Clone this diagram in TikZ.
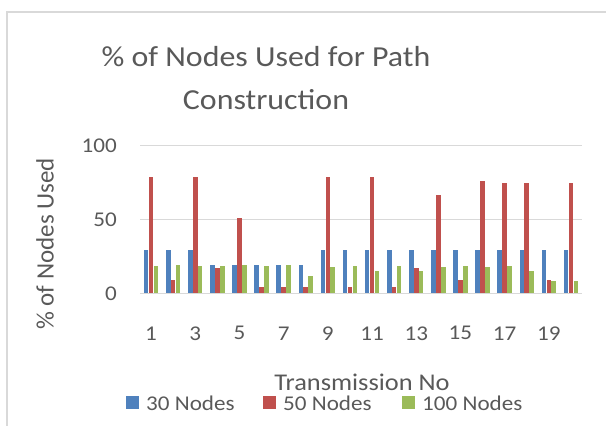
\documentclass[tikz,border=0pt]{standalone}
\usepackage{fontspec}
\setmainfont{Carlito}
\usepackage{tikz}
\usetikzlibrary{positioning}
\definecolor{serA}{HTML}{4F81BD}
\definecolor{serB}{HTML}{C0504D}
\definecolor{serC}{HTML}{9BBB59}
\definecolor{txtgray}{HTML}{595959}
\definecolor{linegray}{HTML}{D9D9D9}

\begin{document}
\begin{tikzpicture}[x=1pt, y=1pt]
\tikzset{
lbl/.style      = {text=txtgray, inner sep=0pt, xscale=1.1},
grid/.style     = {draw=linegray, line width=1.2pt},
legkey/.style   = {shape=rectangle, inner sep=0pt, minimum size=13pt},
}
    \useasboundingbox (0,0) rectangle (606,426);

    % Chart frame
    \draw [linegray, line width=1.5pt] (7,0) -- (7,414) -- (606,414);

    % Title
    \node [lbl, align=center, font=\fontsize{29}{43}\selectfont] (title) at (266,348)
        {\% of Nodes Used for Path\\Construction};

    % Plot area
    \begin{scope}[shift={(140pt,132.7pt)}, x=22.1pt, y=1.476pt]
    \foreach \v in {0,50,100} {
        \draw [grid] (0,\v) -- (20,\v);
        \node [lbl, anchor=east, font=\fontsize{21}{21}\selectfont] (ytick\v) at (-1.04,\v) {\v};
    }

    % Bars
    \foreach \i/\a/\b/\c in {1/29/79/18.5, 2/29/9/19.5, 3/29/79/18.5, 4/19.5/17/18.5,
        5/19.5/51/19.5, 6/19.5/4/18.5, 7/19.5/4/19.5, 8/19.5/4/11.5, 9/29/79/17.5,
        10/29/4/18.5, 11/29/79/15, 12/29/4/18.5, 13/29/17/15, 14/29/66.5/17.5,
        15/29/9/18.5, 16/29/76/17.5, 17/29/74.5/18.5, 18/29/74.5/15, 19/29/9/8,
        20/29/74.5/8} {
        \fill [serA] (\i-0.826,0) rectangle (\i-0.618,\a);
        \fill [serB] (\i-0.604,0) rectangle (\i-0.396,\b);
        \fill [serC] (\i-0.382,0) rectangle (\i-0.174,\c);
    }

    % Category labels
    \foreach \i in {1,3,...,19}
        \node [lbl, font=\fontsize{21}{21}\selectfont] (xtick\i) at ([yshift=-40pt]\i-0.5,0) {\i};
    \end{scope}

    % Axis titles
    \node [lbl, xscale=1/1.1, rotate=90, font=\fontsize{25}{25}\selectfont] (ytitle) at (45,182) {\% of Nodes Used};
    \node [lbl, font=\fontsize{24}{24}\selectfont] (xtitle) at (362,44) {Transmission No};

    % Legend
    \node [legkey, fill=serA] (key30)  at (132.5,23) {};
    \node [legkey, fill=serB] (key50)  at (269.5,23) {};
    \node [legkey, fill=serC] (key100) at (408.5,23) {};
    \node [lbl, anchor=west, font=\fontsize{21}{21}\selectfont] (leg30)  at (146,23) {30 Nodes};
    \node [lbl, anchor=west, font=\fontsize{21}{21}\selectfont] (leg50)  at (283,23) {50 Nodes};
    \node [lbl, anchor=west, font=\fontsize{21}{21}\selectfont] (leg100) at (422,23) {100 Nodes};

\end{tikzpicture}
\end{document}
